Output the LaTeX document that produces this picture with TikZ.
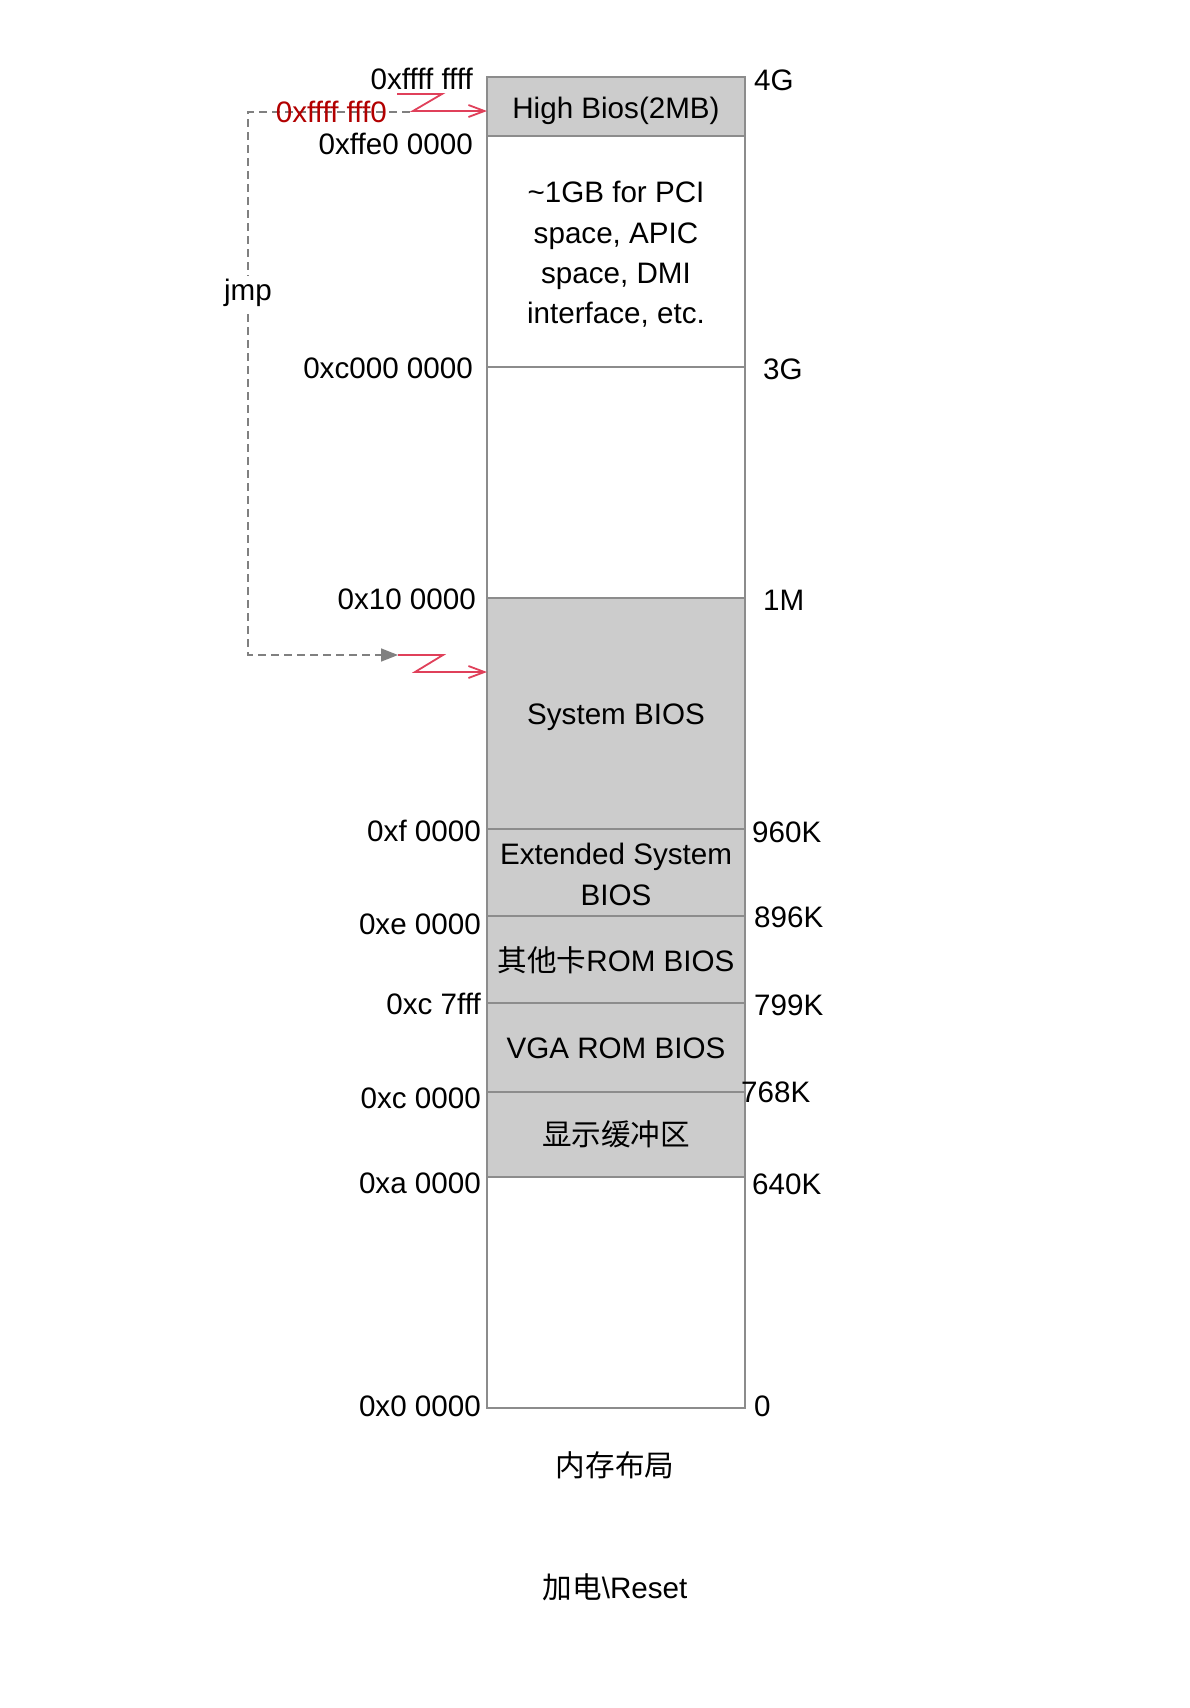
\documentclass[tikz,border=0pt]{standalone}
\usepackage{fontspec}
\setmainfont{Liberation Sans}
\newfontfamily\cjk{Noto Sans CJK SC}
\usetikzlibrary{arrows.meta}
\definecolor{cellgray}{HTML}{CCCCCC}
\definecolor{edgegray}{HTML}{8C8C8C}
\definecolor{addrred}{HTML}{B20000}
\definecolor{zigred}{HTML}{E0405A}
\definecolor{dashgray}{HTML}{808080}
\begin{document}
\begin{tikzpicture}[x=1pt,y=-1pt,
  font=\fontsize{29.6}{40.3}\selectfont,
  cell/.style={draw=edgegray, line width=1.8pt, minimum width=258pt, anchor=north west,
    inner sep=0pt, outer sep=0pt},
  grayc/.style={cell, fill=cellgray},
  whitec/.style={cell, fill=white},
  ctext/.style={inner sep=0pt, align=center, text=black},
  addr/.style={inner sep=0pt, anchor=east},
  sizel/.style={inner sep=0pt, anchor=west},
  jmpline/.style={draw=dashgray, line width=1.6pt, dash pattern=on 8pt off 5pt,
    -{Triangle[length=17pt, width=13pt]}},
  zig/.style={draw=zigred, line width=1.8pt, line join=miter,
    -{Straight Barb[length=16pt, width=12pt, line width=1.8pt]}}]
\useasboundingbox (0,0) rectangle (1190,1708);
\fill[white] (0,0) rectangle (1190,1708);

% memory cells
\node[grayc, minimum height=59pt] (hb) at (487,77) {};
\node[whitec, minimum height=231pt] (pci) at (487,136) {};
\node[whitec, minimum height=231pt] (mid) at (487,367) {};
\node[grayc, minimum height=231pt] (sys) at (487,598) {};
\node[grayc, minimum height=87pt] (ext) at (487,829) {};
\node[grayc, minimum height=87pt] (oth) at (487,916) {};
\node[grayc, minimum height=89pt] (vga) at (487,1003) {};
\node[grayc, minimum height=85pt] (disp) at (487,1092) {};
\node[whitec, minimum height=231pt] (low) at (487,1177) {};

% cell texts
\node[ctext, yshift=-4pt] (hbt) at (hb.center) {High Bios(2MB)};
\node[ctext, yshift=-3pt] (pcit) at (pci.center)
  {\textasciitilde1GB for PCI\\space, APIC\\space, DMI\\interface, etc.};
\node[ctext, yshift=-4pt] (syst) at (sys.center) {System BIOS};
\node[ctext, yshift=-2pt] (extt) at (ext.center) {Extended System\\BIOS};
\node[ctext, yshift=-1pt] (otht) at (oth.center) {{\cjk 其他卡}ROM BIOS};
\node[ctext, yshift=-1pt] (vgat) at (vga.center) {VGA ROM BIOS};
\node[ctext] (dispt) at (disp.center) {\cjk 显示缓冲区};

% addresses
\node[addr] (a1) at (473,79) {0xffff ffff};
\node[addr] (a3) at (473,144) {0xffe0 0000};
\node[addr] (a4) at (473,368) {0xc000 0000};
\node[addr] (a5) at (476,599) {0x10 0000};
\node[addr] (a6) at (481,831) {0xf 0000};
\node[addr] (a7) at (481,924) {0xe 0000};
\node[addr] (a8) at (481,1004) {0xc 7fff};
\node[addr] (a9) at (481,1098) {0xc 0000};
\node[addr] (a10) at (481,1183) {0xa 0000};
\node[addr] (a11) at (481,1406) {0x0 0000};

% sizes
\node[sizel] (s1) at (754,80) {4G};
\node[sizel] (s2) at (763,369) {3G};
\node[sizel] (s3) at (763,600) {1M};
\node[sizel] (s4) at (752,832) {960K};
\node[sizel] (s5) at (754,917) {896K};
\node[sizel] (s6) at (754,1005) {799K};
\node[sizel] (s7) at (741,1092) {768K};
\node[sizel] (s8) at (752,1184) {640K};
\node[sizel] (s9) at (754,1406) {0};

% captions
\node (cap1) at (615,1465) {\cjk 内存布局};
\node (cap2) at (615,1587) {{\cjk 加电}\textbackslash Reset};

% jump path
\coordinate (js) at (410,112);
\coordinate (jc1) at (248,112);
\coordinate (jc2) at (248,655);
\coordinate (je) at (398,655);
\draw[jmpline] (js) -- (jc1) -- (jc2) -- (je);
\node[fill=white, inner sep=3pt] (jmp) at (248,293) {jmp};
\node[addr, text=addrred] (a2) at (387,112) {0xffff fff0};

% red zigzag arrows
\coordinate (z1a) at (397,94);
\coordinate (z1b) at (442,94);
\coordinate (z1c) at (413,111);
\coordinate (z1d) at (hb.west |- z1c);
\draw[zig] (z1a) -- (z1b) -- (z1c) -- (z1d);
\coordinate (z2b) at (443,655);
\coordinate (z2c) at (415,672);
\coordinate (z2d) at (sys.west |- z2c);
\draw[zig] (je) -- (z2b) -- (z2c) -- (z2d);
\end{tikzpicture}
\end{document}
